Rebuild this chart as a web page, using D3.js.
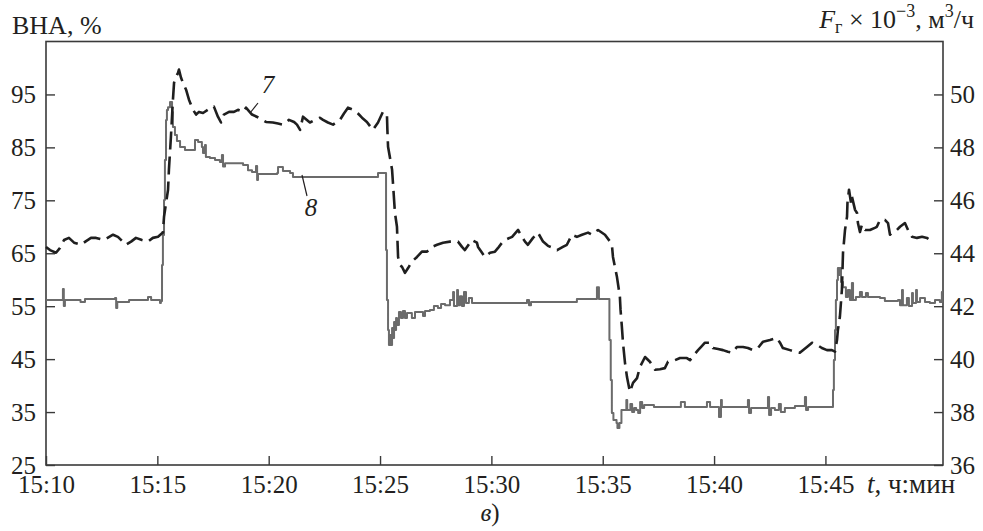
<!DOCTYPE html>
<html><head><meta charset="utf-8">
<script src="https://cdn.jsdelivr.net/npm/d3@7"></script>
<style>
body{margin:0;background:#fff}
svg{display:block}
</style></head>
<body><svg id="chart" width="983" height="531" font-family="Liberation Serif"></svg>
<script>
// minutes since 15:10
const tickMinutes = [0,5,10,15,20,25,30,35];
const timeTickLabels = ["15:10","15:15","15:20","15:25","15:30","15:35","15:40","15:45"];
const leftTicks = [25,35,45,55,65,75,85,95];
const rightTicks = [36,38,40,42,44,46,48,50];

// curve 7: ВНА, %
const series7Time = [0,0.18,0.45,0.63,0.81,1.03,1.26,1.57,1.80,2.02,2.25,2.60,3.01,3.23,3.59,3.82,4.04,4.31,4.58,4.80,5.03,5.25,5.30,5.48,5.52,5.61,5.70,5.75,5.84,5.93,5.97,6.06,6.15,6.29,6.42,6.60,6.74,6.87,7.05,7.27,7.54,7.72,7.86,7.99,8.22,8.44,8.62,8.85,8.98,9.25,9.56,9.88,10.19,10.42,10.64,10.91,11.14,11.27,11.41,11.54,11.85,12.08,12.30,12.44,12.66,12.89,13.20,13.38,13.56,13.79,14.01,14.19,14.41,14.68,14.91,15.13,15.31,15.33,15.36,15.54,15.58,15.67,15.76,15.81,15.90,15.99,16.12,16.26,16.43,16.66,16.88,17.11,17.33,17.56,17.83,18.14,18.50,18.68,18.81,19.13,19.35,19.40,19.58,19.71,19.94,20.16,20.30,20.48,20.61,20.93,21.20,21.37,21.51,21.64,21.87,22.09,22.32,22.54,22.77,22.95,23.21,23.39,23.62,23.84,24.07,24.34,24.52,24.65,24.79,25.10,25.33,25.42,25.46,25.55,25.64,25.77,25.80,25.86,25.91,26.00,26.09,26.22,26.36,26.54,26.67,26.90,27.12,27.35,27.57,27.79,27.93,28.24,28.47,28.78,28.92,29.10,29.28,29.46,29.59,29.82,29.95,30.18,30.40,30.62,30.80,31.03,31.30,31.52,31.74,31.97,32.20,32.51,32.82,32.96,33.09,33.41,33.63,33.85,34.17,34.40,34.62,34.84,35.07,35.29,35.43,35.52,35.56,35.65,35.74,35.79,35.88,35.97,35.99,36.06,36.15,36.19,36.33,36.42,36.46,36.55,36.64,36.78,37.00,37.22,37.31,37.45,37.67,37.81,37.90,38.03,38.21,38.35,38.57,38.71,38.89,39.11,39.34,39.56,39.69];
const series7Vna = [66.2,65.6,65.1,66.0,67.5,67.9,67.0,66.6,67.3,67.9,67.9,67.5,68.5,68.1,66.6,67.2,67.9,67.5,67.2,67.9,68.1,68.9,71.9,77.0,80.8,87.0,94.0,97.2,98.3,99.1,99.7,98.2,97.2,95.9,94.0,92.1,91.2,91.7,91.5,92.1,92.7,90.8,89.7,91.2,91.7,91.7,92.1,91.7,92.5,91.2,90.6,89.8,89.7,89.5,89.3,90.2,89.8,89.3,88.3,90.8,89.7,90.2,90.6,90.2,89.7,89.3,90.2,91.4,92.5,92.1,91.4,90.6,89.8,88.3,89.7,91.7,91.2,88.3,85.1,80.8,78.3,72.6,70.0,64.3,62.8,62.4,61.3,62.2,63.4,64.3,65.3,65.3,66.2,66.6,67.0,67.2,67.2,66.2,65.6,67.5,67.0,66.2,65.1,64.3,65.1,65.3,66.0,67.0,67.5,68.1,69.4,68.1,67.2,66.6,67.9,68.9,67.2,66.4,66.0,65.6,66.2,66.6,68.5,68.1,68.5,68.9,68.5,69.0,69.4,68.5,67.2,66.2,64.3,62.4,60.5,56.8,54.3,51.1,48.1,44.3,41.6,38.8,40.5,41.4,43.5,45.4,44.5,43.0,43.1,43.3,44.5,44.8,45.2,45.2,44.8,45.8,46.7,47.5,48.1,48.1,47.1,46.9,46.7,46.4,46.2,47.3,47.3,47.1,46.7,47.1,48.3,48.6,49.0,48.1,47.1,46.7,46.4,46.2,47.3,48.1,47.7,47.1,46.7,46.7,46.4,48.6,50.5,53.0,58.1,65.1,69.4,71.9,74.5,77.0,74.5,75.7,73.2,72.6,70.7,69.0,70.4,69.4,69.4,69.8,70.0,71.3,71.3,70.7,68.5,69.0,69.4,70.0,70.7,69.4,68.1,67.9,68.1,67.9,67.5];

// curve 8: F_г × 10^-3, м3/ч
const series8Time = [0,0.76,0.80,0.85,1.55,1.75,3.10,3.15,3.20,3.73,4.58,4.72,5.12,5.16,5.21,5.25,5.30,5.34,5.39,5.43,5.48,5.57,5.66,5.70,5.79,5.88,6.02,6.24,6.69,6.83,7.00,7.05,7.14,7.18,7.36,7.59,7.81,7.90,7.95,8.04,8.85,9.07,9.25,9.43,9.48,9.52,10.38,10.42,10.64,10.96,11.09,14.91,15.23,15.27,15.31,15.36,15.40,15.45,15.49,15.54,15.58,15.63,15.67,15.72,15.76,15.85,15.94,16.03,16.12,16.21,16.43,16.57,16.93,17.02,17.24,17.42,17.60,17.74,17.92,18.14,18.28,18.32,18.46,18.50,18.59,18.68,18.77,18.86,18.99,19.13,21.60,21.69,21.78,23.84,24.74,24.83,25.30,25.36,25.41,25.48,25.62,25.66,25.75,25.84,26.06,26.10,26.24,26.32,26.41,26.50,26.59,26.68,26.77,26.86,27.30,28.51,28.69,29.68,29.82,30.22,30.31,30.35,31.52,31.57,31.66,32.42,32.47,32.56,32.73,32.91,33.00,33.18,33.63,34.08,34.13,34.22,35.34,35.38,35.43,35.47,35.52,35.56,35.61,35.65,35.70,35.79,35.92,36.01,36.10,36.19,36.24,36.37,36.55,36.64,36.82,36.91,37.45,37.67,38.26,38.35,38.44,38.48,38.66,38.75,38.89,38.93,39.07,39.11,39.25,39.47,39.69,39.92,40.14,40.23,40.28];
const series8Flow = [42.23,42.65,42.01,42.23,42.16,42.27,42.31,41.93,42.16,42.23,42.35,42.23,42.12,42.20,43.56,44.69,46.01,47.52,49.03,49.41,49.52,49.71,49.34,48.77,48.47,48.24,48.01,47.90,48.28,48.20,48.01,47.79,48.09,47.64,47.60,47.52,47.45,47.71,47.28,47.40,47.33,47.14,47.07,47.30,46.77,46.99,47.03,47.26,47.11,47.03,46.88,47.03,47.03,44.12,42.23,41.10,40.53,40.91,40.53,41.18,40.80,41.40,41.10,41.55,41.29,41.78,41.55,41.82,41.55,41.74,41.55,41.78,41.63,41.82,41.86,42.01,41.93,42.08,42.04,42.23,42.54,42.01,42.61,42.04,42.38,42.01,42.54,42.12,42.31,42.12,42.23,42.04,42.16,42.27,42.72,42.27,40.72,39.21,37.96,37.70,37.59,37.40,37.59,38.08,38.46,38.08,38.30,38.00,38.15,38.08,37.96,38.38,38.15,38.27,38.19,38.38,38.19,38.38,38.19,37.81,38.46,38.19,38.46,37.96,38.15,38.57,37.89,38.15,38.08,38.30,38.00,38.15,38.23,38.57,38.08,38.19,38.83,39.97,41.10,42.23,42.99,43.44,43.18,43.44,42.91,42.72,42.35,42.61,42.23,42.88,42.23,42.35,42.54,42.35,42.50,42.35,42.31,42.20,42.23,42.04,42.61,42.04,42.31,42.01,42.50,42.12,42.61,42.16,42.31,42.16,42.12,42.23,42.16,42.54,42.54];

const FONT = "Liberation Serif";
const TXT = "#231f20";
const svg = d3.select("#chart");
const L = 46, R = 943, T = 41.5, B = 465;
const x = d3.scaleLinear().domain([0, 40.28]).range([L, R]);
const yL = d3.scaleLinear().domain([25, 105]).range([B, T]);
const yR = d3.scaleLinear().domain([36, 52]).range([B, T]);

const axisColor = "#3a3a3a";

// frame
svg.append("rect").attr("x", L).attr("y", T).attr("width", R - L).attr("height", B - T)
  .attr("fill", "none").attr("stroke", axisColor).attr("stroke-width", 1.6);

function styleAxis(g, size) {
  g.attr("font-family", FONT).attr("font-size", size);
  g.select(".domain").remove();
  g.selectAll(".tick line").attr("stroke", axisColor).attr("stroke-width", 1.4);
  g.selectAll(".tick text").attr("fill", TXT).attr("font-family", FONT).attr("font-size", size);
}

svg.append("g").attr("transform", `translate(${L},0)`)
  .call(d3.axisLeft(yL).tickValues(leftTicks).tickSizeInner(-9).tickSizeOuter(0).tickPadding(10))
  .call(g => styleAxis(g, 25));

svg.append("g").attr("transform", `translate(${R},0)`)
  .call(d3.axisRight(yR).tickValues(rightTicks).tickSizeInner(-9).tickSizeOuter(0).tickPadding(7))
  .call(g => styleAxis(g, 25));

svg.append("g").attr("transform", `translate(0,${B})`)
  .call(d3.axisBottom(x).tickValues(tickMinutes).tickSizeInner(-9).tickSizeOuter(0).tickPadding(10)
    .tickFormat((d, i) => timeTickLabels[i]))
  .call(g => styleAxis(g, 25));

// curves
const line8 = d3.line().x((d, i) => x(series8Time[i])).y(d => yR(d)).curve(d3.curveStepAfter);
svg.append("path").datum(series8Flow).attr("d", line8)
  .attr("fill", "none").attr("stroke", "#6b6b6b").attr("stroke-width", 2).attr("stroke-linejoin", "round");

const line7 = d3.line().x((d, i) => x(series7Time[i])).y(d => yL(d)).curve(d3.curveLinear);
svg.append("path").datum(series7Vna).attr("d", line7)
  .attr("fill", "none").attr("stroke", "#1f1f1f").attr("stroke-width", 2.6)
  .attr("stroke-dasharray", "18,7").attr("stroke-linejoin", "round");

function txt(xp, yp, size) {
  return svg.append("text").attr("x", xp).attr("y", yp).attr("font-family", FONT)
    .attr("font-size", size).attr("fill", TXT);
}

// curve labels with leaders
svg.append("line").attr("x1", 250).attr("y1", 113).attr("x2", 258).attr("y2", 103)
  .attr("stroke", TXT).attr("stroke-width", 1.2);
txt(268, 93, 25).attr("text-anchor", "middle").attr("font-style", "italic").text("7");
svg.append("line").attr("x1", 302).attr("y1", 175).attr("x2", 307).attr("y2", 196)
  .attr("stroke", TXT).attr("stroke-width", 1.2);
txt(311, 216, 25).attr("text-anchor", "middle").attr("font-style", "italic").text("8");

// axis titles
txt(12, 34, 26).text("ВНА, %");

const rt = txt(974, 28, 26).attr("text-anchor", "end");
rt.append("tspan").attr("font-style", "italic").text("F");
rt.append("tspan").attr("font-size", 18).attr("dy", 5).text("г");
rt.append("tspan").attr("dy", -5).text(" × 10");
rt.append("tspan").attr("font-size", 18).attr("dy", -11).text("−3");
rt.append("tspan").attr("dy", 11).text(", м");
rt.append("tspan").attr("font-size", 18).attr("dy", -11).text("3");
rt.append("tspan").attr("dy", 11).text("/ч");

const xt = txt(867, 493, 27);
xt.append("tspan").attr("font-style", "italic").text("t");
xt.append("tspan").text(", ч:мин");

const cap = txt(490, 521, 25).attr("text-anchor", "middle");
cap.append("tspan").attr("font-style", "italic").text("в");
cap.append("tspan").text(")");
</script>
</body></html>
